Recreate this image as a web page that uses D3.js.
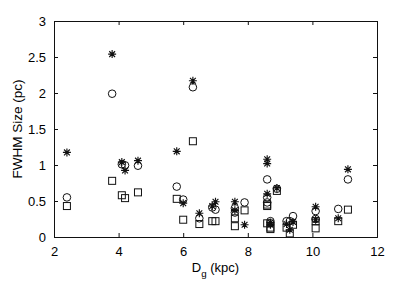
<!DOCTYPE html>
<html><head><meta charset="utf-8">
<script src="https://cdn.jsdelivr.net/npm/d3@7"></script>
<style>html,body{margin:0;padding:0;background:#fff;}svg{display:block;}</style>
</head><body>
<script>
// Distances (kpc) of each source
const distance = [2.4,3.8,4.1,4.2,4.6,5.8,6.0,6.3,6.5,6.9,7.0,7.6,7.6,7.9,8.6,8.6,8.6,8.7,8.7,8.9,9.2,9.3,9.4,10.1,10.1,10.8,11.1];
// FWHM sizes (pc) for the three measures
const sizeStar   = [1.175,2.54,1.04,0.925,1.06,1.19,0.47,2.17,0.33,0.43,0.49,0.49,0.37,0.17,1.08,1.02,0.60,0.20,0.17,0.68,0.18,0.10,0.21,0.42,0.24,0.26,0.94];
const sizeCircle = [0.55,1.99,1.01,0.995,0.99,0.70,0.52,2.08,0.26,0.41,0.38,0.40,0.34,0.48,0.80,0.55,0.48,0.22,0.19,0.67,0.22,0.22,0.29,0.36,0.25,0.39,0.80];
const sizeSquare = [0.43,0.78,0.58,0.54,0.62,0.53,0.24,1.33,0.18,0.22,0.22,0.26,0.15,0.37,0.45,0.43,0.19,0.13,0.11,0.64,0.13,0.05,0.17,0.12,0.22,0.22,0.38];
const xTicks = [2,4,6,8,10,12];
const yTicks = [0,0.5,1,1.5,2,2.5,3];
const xLabel = "D";
const xLabelSub = "g";
const xLabelRest = " (kpc)";
const yLabel = "FWHM Size (pc)";

const W = 415, H = 282;
const L = 54, R = 377, T = 21, B = 237;
const font = "'Liberation Sans', Arial, Helvetica, sans-serif";
const fs = 13;

const svg = d3.select("body").append("svg").attr("width", W).attr("height", H);
const x = d3.scaleLinear().domain([2,12]).range([L,R]);
const y = d3.scaleLinear().domain([0,3]).range([B,T]);

const ink = "#111";
const tl = 4;
const gB = svg.append("g").attr("transform",`translate(0,${B})`)
  .call(d3.axisBottom(x).tickValues(xTicks).tickSize(-tl).tickPadding(tl+6).tickFormat(d3.format("d")));
const gT = svg.append("g").attr("transform",`translate(0,${T})`)
  .call(d3.axisTop(x).tickValues(xTicks).tickSize(-tl).tickFormat(""));
const gL = svg.append("g").attr("transform",`translate(${L},0)`)
  .call(d3.axisLeft(y).tickValues(yTicks).tickSize(-tl).tickPadding(tl+4).tickFormat(d=>String(d)));
const gR = svg.append("g").attr("transform",`translate(${R},0)`)
  .call(d3.axisRight(y).tickValues(yTicks).tickSize(-tl).tickFormat(""));
[gB,gT,gL,gR].forEach(g=>{
  g.selectAll("path.domain").attr("stroke",ink).attr("stroke-width",1);
  g.selectAll(".tick line").attr("stroke",ink);
  g.selectAll("text").attr("font-family",font).attr("font-size",fs).attr("fill","#000");
});

const plot = svg.append("g");
const idx = d3.range(distance.length);
plot.selectAll("rect.sq").data(idx).join("rect")
  .attr("x",i=>x(distance[i])-3.5).attr("y",i=>y(sizeSquare[i])-3.5)
  .attr("width",7).attr("height",7)
  .attr("fill","none").attr("stroke",ink).attr("stroke-width",1);
plot.selectAll("circle.ci").data(idx).join("circle")
  .attr("cx",i=>x(distance[i])).attr("cy",i=>y(sizeCircle[i])).attr("r",3.8)
  .attr("fill","none").attr("stroke",ink).attr("stroke-width",1);
const s = 4, d = 2.9;
const star = plot.selectAll("g.st").data(idx).join("g")
  .attr("transform",i=>`translate(${x(distance[i])},${y(sizeStar[i])})`);
star.append("path")
  .attr("d",`M${-s},0L${s},0M0,${-s}L0,${s}M${-d},${-d}L${d},${d}M${-d},${d}L${d},${-d}`)
  .attr("stroke",ink).attr("stroke-width",1.15).attr("fill","none");

const xl = svg.append("text").attr("x",(L+R)/2).attr("y",272)
  .attr("text-anchor","middle").attr("font-family",font).attr("font-size",fs);
xl.append("tspan").text(xLabel);
xl.append("tspan").attr("font-size",fs*0.75).attr("dy",5).text(xLabelSub);
xl.append("tspan").attr("dy",-5).text(xLabelRest);

svg.append("text").attr("transform",`translate(21.5,${(T+B)/2}) rotate(-90)`)
  .attr("text-anchor","middle").attr("font-family",font).attr("font-size",13.5).text(yLabel);
</script>
</body></html>
